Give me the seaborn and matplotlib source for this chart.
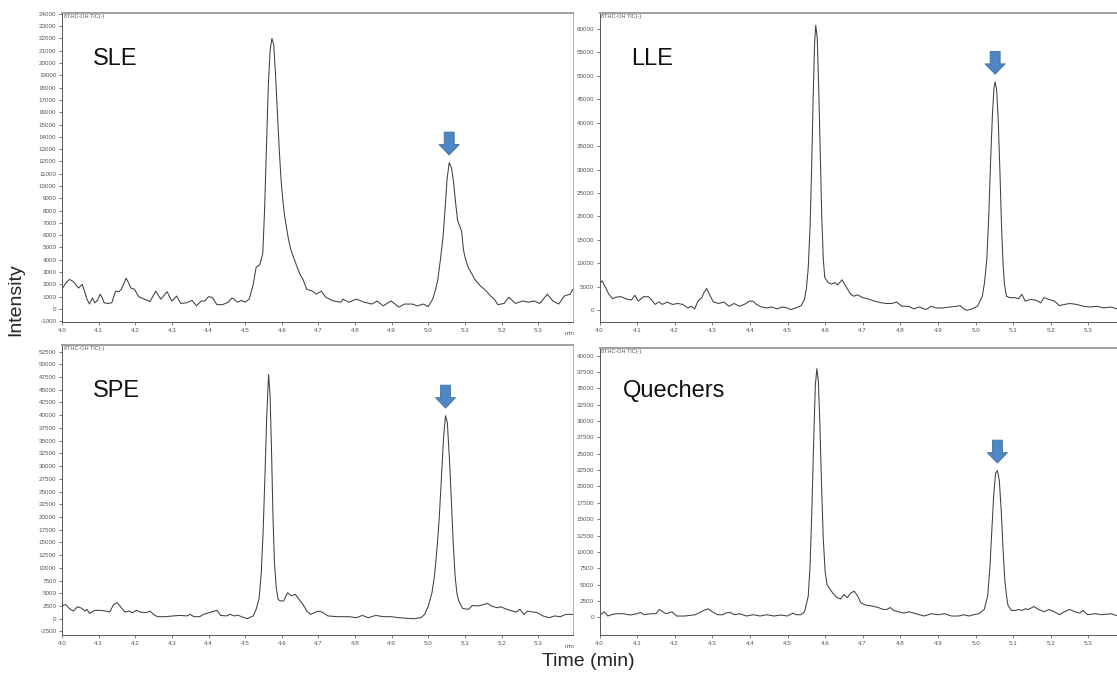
import numpy as np
import pandas as pd
import matplotlib
matplotlib.use("Agg")
import matplotlib.pyplot as plt
import matplotlib.ticker as mticker
import seaborn as sns

# Chromatogram traces (time in min, intensity in counts)
sle_time = [4.000, 4.010, 4.020, 4.030, 4.037, 4.045, 4.055, 4.062, 4.068, 4.075, 4.083, 4.090, 4.097,
            4.104, 4.110, 4.115, 4.125, 4.136, 4.146, 4.155, 4.162, 4.175, 4.182, 4.188, 4.198, 4.209,
            4.225, 4.240, 4.256, 4.263, 4.270, 4.287, 4.295, 4.300, 4.313, 4.324, 4.340, 4.355, 4.367,
            4.380, 4.390, 4.400, 4.410, 4.423, 4.438, 4.454, 4.464, 4.480, 4.490, 4.500, 4.511, 4.522,
            4.530, 4.540, 4.548, 4.553, 4.558, 4.563, 4.568, 4.573, 4.578, 4.583, 4.588, 4.593, 4.598,
            4.603, 4.608, 4.613, 4.618, 4.624, 4.632, 4.642, 4.650, 4.658, 4.668, 4.684, 4.694, 4.708,
            4.720, 4.741, 4.752, 4.762, 4.767, 4.783, 4.804, 4.825, 4.846, 4.860, 4.877, 4.898, 4.920,
            4.935, 4.956, 4.970, 4.986, 5.000, 5.012, 5.020, 5.026, 5.033, 5.040, 5.046, 5.051, 5.057,
            5.063, 5.069, 5.075, 5.080, 5.086, 5.091, 5.096, 5.102, 5.110, 5.118, 5.127, 5.143, 5.157,
            5.170, 5.180, 5.190, 5.207, 5.220, 5.238, 5.258, 5.273, 5.289, 5.304, 5.325, 5.340, 5.356,
            5.371, 5.387, 5.395]
sle_int = [1600, 2100, 2400, 2250, 2000, 1700, 2000, 1400, 800, 400, 900, 500, 700,
           1200, 900, 500, 450, 500, 1450, 1400, 1600, 2500, 2100, 1700, 1600, 1000,
           800, 600, 1450, 1100, 800, 1400, 900, 650, 1050, 450, 500, 700, 250,
           650, 650, 1000, 950, 350, 350, 550, 900, 550, 700, 550, 800, 2000,
           3400, 3600, 4500, 8000, 13000, 18000, 21000, 22000, 21500, 19000, 16000, 13000, 10500,
           8800, 7500, 6600, 5700, 4900, 4200, 3400, 2800, 2400, 1600, 1450, 1200, 1450,
           950, 650, 600, 550, 800, 550, 800, 550, 400, 650, 250, 650, 150,
           400, 400, 250, 400, 200, 800, 1600, 2400, 4000, 5800, 8200, 10500, 11900,
           11500, 10300, 8500, 7200, 6700, 6300, 4800, 4000, 3300, 2900, 2400, 1850, 1500,
           1050, 800, 350, 450, 950, 450, 650, 550, 650, 450, 1200, 650, 400,
           1050, 1200, 1600]

lle_time = [4.000, 4.007, 4.016, 4.025, 4.035, 4.044, 4.057, 4.066, 4.076, 4.085, 4.094, 4.103, 4.117,
            4.130, 4.139, 4.148, 4.158, 4.167, 4.180, 4.194, 4.208, 4.221, 4.235, 4.244, 4.253, 4.262,
            4.272, 4.278, 4.285, 4.292, 4.303, 4.317, 4.331, 4.344, 4.358, 4.372, 4.385, 4.399, 4.408,
            4.417, 4.431, 4.444, 4.458, 4.472, 4.486, 4.499, 4.508, 4.522, 4.536, 4.545, 4.550, 4.555,
            4.560, 4.564, 4.568, 4.572, 4.575, 4.579, 4.583, 4.587, 4.591, 4.595, 4.599, 4.608, 4.617,
            4.626, 4.633, 4.645, 4.657, 4.668, 4.677, 4.686, 4.700, 4.713, 4.731, 4.749, 4.763, 4.777,
            4.790, 4.804, 4.822, 4.836, 4.850, 4.868, 4.882, 4.895, 4.913, 4.932, 4.950, 4.959, 4.968,
            4.977, 4.991, 5.005, 5.018, 5.024, 5.030, 5.035, 5.040, 5.045, 5.049, 5.052, 5.056, 5.060,
            5.065, 5.069, 5.073, 5.077, 5.082, 5.091, 5.105, 5.114, 5.123, 5.132, 5.146, 5.159, 5.173,
            5.182, 5.196, 5.210, 5.223, 5.237, 5.250, 5.269, 5.287, 5.305, 5.323, 5.341, 5.360, 5.376,
            5.400]
lle_int = [5600, 6300, 4850, 3400, 2450, 2800, 2900, 2600, 2300, 2200, 3200, 1950, 2900,
           2900, 2200, 1250, 1800, 1250, 1750, 1250, 1450, 1250, 500, 850, 300, 1950,
           2700, 3800, 4650, 3400, 1750, 1450, 1750, 850, 1450, 850, 1250, 1950, 1950,
           1250, 700, 500, 700, 300, 700, 500, 150, 500, 1000, 2300, 4500, 9000,
           18000, 30000, 45000, 57000, 60800, 58000, 47000, 33000, 20000, 11000, 7000, 5900, 5600,
           5900, 5400, 6500, 4850, 3400, 3000, 3300, 2700, 2450, 1950, 1600, 1450, 1450,
           1750, 850, 850, 300, 700, 150, 850, 500, 500, 700, 850, 1000, 300,
           0, 300, 850, 3000, 6000, 11000, 20000, 32000, 42000, 47500, 48700, 47000, 41000,
           29000, 18000, 10000, 5500, 3000, 2700, 2700, 2450, 3400, 1950, 2300, 2200, 1600,
           2700, 2300, 1950, 1000, 1250, 1450, 1250, 850, 700, 850, 500, 700, 300,
           400]

spe_time = [4.000, 4.010, 4.020, 4.031, 4.042, 4.054, 4.063, 4.068, 4.075, 4.089, 4.104, 4.120, 4.130,
            4.141, 4.151, 4.162, 4.172, 4.183, 4.193, 4.203, 4.214, 4.230, 4.240, 4.250, 4.260, 4.282,
            4.303, 4.324, 4.340, 4.350, 4.360, 4.376, 4.386, 4.402, 4.412, 4.423, 4.433, 4.449, 4.459,
            4.470, 4.480, 4.490, 4.506, 4.522, 4.530, 4.538, 4.544, 4.549, 4.554, 4.559, 4.564, 4.568,
            4.572, 4.576, 4.580, 4.585, 4.590, 4.595, 4.605, 4.616, 4.626, 4.637, 4.647, 4.658, 4.668,
            4.679, 4.689, 4.700, 4.710, 4.726, 4.752, 4.784, 4.804, 4.820, 4.836, 4.857, 4.877, 4.898,
            4.920, 4.960, 4.980, 4.990, 5.000, 5.010, 5.017, 5.024, 5.030, 5.036, 5.042, 5.047, 5.052,
            5.058, 5.063, 5.068, 5.073, 5.078, 5.083, 5.094, 5.110, 5.120, 5.136, 5.151, 5.162, 5.172,
            5.188, 5.198, 5.214, 5.230, 5.240, 5.250, 5.261, 5.271, 5.287, 5.297, 5.313, 5.330, 5.345,
            5.360, 5.376, 5.395]
spe_int = [2500, 2800, 2000, 1500, 2350, 2050, 1500, 1850, 1050, 1650, 1650, 1500, 1300,
           2800, 3150, 2150, 1300, 1500, 1200, 1650, 1300, 1200, 1500, 850, 400, 400,
           550, 650, 550, 850, 400, 400, 850, 1200, 1400, 1650, 650, 550, 850,
           550, 700, 400, 0, 550, 1850, 4000, 9000, 17000, 28000, 40000, 48000, 44000,
           33000, 20000, 11000, 6000, 3800, 3500, 3500, 5100, 4500, 4800, 3800, 2800, 1500,
           850, 1200, 1500, 1300, 550, 400, 400, 200, 650, 200, 650, 400, 400,
           200, 0, 200, 850, 2500, 5100, 8500, 14000, 20000, 28000, 36000, 39900, 38500,
           31000, 23000, 15000, 8500, 5000, 3500, 2000, 1850, 2600, 2500, 2800, 3000, 2500,
           2150, 2350, 1850, 1500, 1300, 1850, 850, 1500, 1300, 1200, 550, 200, 550,
           400, 850, 850]

que_time = [4.000, 4.006, 4.013, 4.022, 4.031, 4.045, 4.064, 4.082, 4.100, 4.109, 4.118, 4.136, 4.150,
            4.159, 4.168, 4.177, 4.193, 4.205, 4.227, 4.255, 4.277, 4.289, 4.300, 4.314, 4.327, 4.336,
            4.347, 4.359, 4.373, 4.391, 4.409, 4.427, 4.445, 4.464, 4.482, 4.500, 4.514, 4.523, 4.536,
            4.545, 4.555, 4.560, 4.565, 4.570, 4.574, 4.578, 4.582, 4.586, 4.590, 4.595, 4.600, 4.605,
            4.614, 4.623, 4.632, 4.641, 4.650, 4.659, 4.668, 4.677, 4.686, 4.695, 4.709, 4.727, 4.741,
            4.755, 4.764, 4.773, 4.782, 4.795, 4.809, 4.823, 4.836, 4.850, 4.864, 4.882, 4.900, 4.918,
            4.936, 4.955, 4.968, 4.982, 4.995, 5.009, 5.023, 5.032, 5.038, 5.043, 5.048, 5.053, 5.058,
            5.063, 5.068, 5.073, 5.078, 5.083, 5.086, 5.095, 5.105, 5.114, 5.123, 5.132, 5.141, 5.155,
            5.168, 5.182, 5.195, 5.209, 5.223, 5.236, 5.250, 5.264, 5.277, 5.286, 5.298, 5.318, 5.336,
            5.359, 5.380, 5.400]
que_int = [500, 550, 850, 200, 400, 550, 550, 350, 550, 750, 400, 550, 550,
           1200, 850, 550, 850, 200, 200, 400, 1050, 1300, 850, 400, 400, 650,
           750, 400, 550, 200, 400, 200, 400, 200, 350, 200, 650, 400, 400,
           850, 3200, 8000, 17000, 28000, 35500, 38000, 36000, 29500, 21000, 12000, 7000, 5000,
           4200, 3500, 3000, 2800, 3500, 3000, 3700, 4000, 3300, 2200, 1850, 1700, 1500,
           1200, 1200, 1500, 1050, 850, 650, 850, 650, 400, 200, 550, 400, 550,
           200, 200, 400, 200, 400, 550, 1200, 3200, 7500, 13000, 18500, 22000, 22400,
           21000, 16500, 10500, 5500, 3000, 1850, 1050, 1050, 1200, 1050, 1300, 1200, 1650,
           1200, 850, 1200, 850, 400, 850, 1200, 850, 650, 1050, 400, 550, 400,
           550, 200, 300]

panel_names = ["SLE", "LLE", "SPE", "Quechers"]
# marked analyte peak (arrow) for each panel
arrow_time = [5.057, 5.052, 5.047, 5.058]
arrow_int = [11900, 48700, 39900, 22400]
y_limits = [(-1060, 24070), (-2500, 63400), (-3200, 53800), (-2700, 41150)]
y_steps = [1000, 5000, 2500, 2500]
y_first = [-1000, 0, -2500, 0]
x_ticks = [4.0, 4.1, 4.2, 4.3, 4.4, 4.5, 4.6, 4.7, 4.8, 4.9, 5.0, 5.1, 5.2, 5.3]

sns.set_style("white")
plt.rcParams["font.family"] = ["Liberation Sans", "DejaVu Sans"]

W, H = 1117, 675
fig = plt.figure(figsize=(W / 100, H / 100), dpi=100)

# pixel boxes (left, top, right, bottom) of each panel
boxes = [(62, 13, 573, 322), (599.5, 13, 1126, 322), (62, 345, 573, 635), (599.5, 348, 1126, 635)]
traces = [(sle_time, sle_int), (lle_time, lle_int), (spe_time, spe_int), (que_time, que_int)]
label_pos = [(93, 65), (631, 65), (93, 397), (623, 397)]

for k, (name, (t, inten)) in enumerate(zip(panel_names, traces)):
    l, tp, r, b = boxes[k]
    ax = fig.add_axes([l / W, 1 - b / H, (r - l) / W, (b - tp) / H])
    df = pd.DataFrame({"time": t, "intensity": inten})
    sns.lineplot(data=df, x="time", y="intensity", ax=ax, color="#404040", lw=0.75,
                 estimator=None, sort=True)

    ax.set_xlim(4.0, 5.395 if k % 2 == 0 else 5.4)
    ax.set_ylim(*y_limits[k])
    yt = np.arange(y_first[k], y_limits[k][1] + 1, y_steps[k])
    ax.set_yticks(yt)
    ax.set_yticklabels([f"{int(v)}" for v in yt])
    ax.set_xticks(x_ticks)
    ax.set_xticklabels([f"{v:.1f}" for v in x_ticks])
    ax.xaxis.set_minor_locator(mticker.MultipleLocator(0.02))
    ax.yaxis.set_minor_locator(mticker.AutoMinorLocator(4))
    ax.tick_params(which="major", direction="out", length=2.5, width=0.6, color="#666666",
                   labelsize=4.5, labelcolor="#555555", pad=1.5)
    ax.tick_params(which="minor", direction="out", length=1.4, width=0.5, color="#777777")
    ax.tick_params(left=True, bottom=True)
    ax.set_xlabel("")
    ax.set_ylabel("")

    for side in ["left", "bottom"]:
        ax.spines[side].set_color("#555555")
        ax.spines[side].set_linewidth(0.7)
    ax.spines["top"].set_color("#a0a0a0")
    ax.spines["top"].set_linewidth(1.4)
    ax.spines["right"].set_color("#b0b0b0")
    ax.spines["right"].set_linewidth(0.7)

    # unit label at the end of the time axis (left panels; cut off on the right ones)
    if k % 2 == 0:
        ax.text(5.385, -0.03, "min", transform=ax.get_xaxis_transform(), ha="center", va="top",
                fontsize=4.5, color="#555555")
    ax.text(0.003, 0.997, "8THC-OH TIC(-)", transform=ax.transAxes, ha="left", va="top",
            fontsize=4, color="#555555")

    # sample preparation label
    lx, lb = label_pos[k]
    fig.text(lx / W, 1 - lb / H, name, fontsize=17, ha="left", va="baseline", color="#111111")

    # arrow marking the analyte peak
    ax.annotate("", xy=(arrow_time[k], arrow_int[k]), xytext=(0, 22), textcoords="offset points",
                arrowprops=dict(arrowstyle="simple,head_length=0.75,head_width=1.45,tail_width=0.72",
                                mutation_scale=10, shrinkA=0, shrinkB=5.5,
                                fc="#4f86c6", ec="#41719c", lw=0.6))

fig.text(16 / W, 1 - 300 / H, "Intensity", rotation=90, ha="center", va="center", fontsize=14)
fig.text(588 / W, 1 - 662 / H, "Time (min)", ha="center", va="center", fontsize=14)

fig.savefig("out.png", dpi=100)
